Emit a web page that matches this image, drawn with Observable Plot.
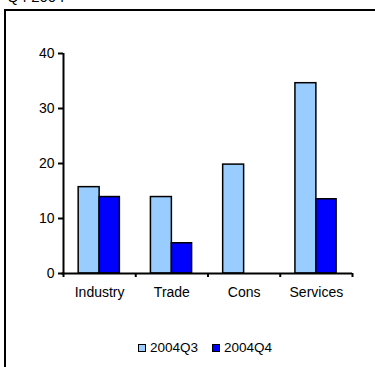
<!DOCTYPE html>
<html>
<head>
<meta charset="utf-8">
<script src="https://cdn.jsdelivr.net/npm/d3@7"></script>
<script src="https://cdn.jsdelivr.net/npm/@observablehq/plot@0.6"></script>
<style>
  html, body { margin: 0; padding: 0; background: #fff; overflow: hidden; }
  body { width: 375px; height: 367px; position: relative; font-family: "Liberation Sans", Arial, sans-serif; }
  #frame { position: absolute; left: 4px; top: 9px; width: 371px; height: 358px; border-top: 2px solid #000; border-left: 2px solid #000; box-sizing: border-box; }
  #clip { position: absolute; left: 0; top: 0; width: 375px; height: 367px; overflow: hidden; }
  #title { position: absolute; left: 7px; top: -11px; font-size: 15px; line-height: 15px; color: #000; white-space: nowrap; }
  #chart { position: absolute; left: 0; top: 0; }
  #legend { position: absolute; left: 138px; top: 340px; display: flex; gap: 14px; font-size: 13.5px; line-height: 16px; }
  .item { display: flex; align-items: center; gap: 4px; }
  .sw { width: 6px; height: 6px; border: 1.5px solid #000; display: inline-block; }
</style>
</head>
<body>
<div id="clip">
<div id="frame"></div>
<div id="title">Q4 2004</div>
<div id="chart"></div>
<div id="legend"></div>
</div>
<script>
const categories = ["Industry", "Trade", "Cons", "Services"];
const series = ["2004Q3", "2004Q4"];
const q3 = [15.7, 13.9, 19.8, 34.6];
const q4 = [13.9, 5.5, null, 13.5];
const colors = ["#99CCFF", "#0000FF"];
const yTicks = [0, 10, 20, 30, 40];

const data = [];
categories.forEach((c, i) => {
  if (q3[i] != null) data.push({category: c, idx: i, series: series[0], value: q3[i], x1: i + 0.21, x2: i + 0.5});
  if (q4[i] != null) data.push({category: c, idx: i, series: series[1], value: q4[i], x1: i + 0.5, x2: i + 0.78});
});

const font = "Liberation Sans, Arial, sans-serif";
const chart = Plot.plot({
  width: 375,
  height: 310,
  marginLeft: 63,
  marginRight: 23,
  marginTop: 53,
  marginBottom: 37,
  style: {fontFamily: font, fontSize: "14px", color: "#000", background: "transparent"},
  x: {domain: [0, categories.length], axis: null},
  y: {domain: [0, 40], axis: null},
  color: {domain: series, range: colors},
  marks: [
    Plot.rectY(data, {x1: "x1", x2: "x2", y: "value", fill: "series", stroke: "#000", strokeWidth: 1.5}),
    Plot.ruleY([0], {x1: -0.02, x2: categories.length, stroke: "#000", strokeWidth: 2}),
    Plot.ruleX([0], {y1: 0, y2: 40, stroke: "#000", strokeWidth: 2}),
    Plot.axisY({ticks: yTicks, tickSize: 5, tickPadding: 4, strokeWidth: 2, fontSize: 14, label: null}),
    Plot.axisX({ticks: d3.range(categories.length + 1), tickSize: 4, strokeWidth: 2, tickFormat: () => "", label: null}),
    Plot.axisX({ticks: categories.map((c, i) => i + 0.5), tickSize: 0, tickPadding: 14, fontSize: 14, label: null,
      tickFormat: d => categories[Math.floor(d)]})
  ]
});
document.getElementById("chart").appendChild(chart);

const legend = document.getElementById("legend");
series.forEach((s, i) => {
  const item = document.createElement("span");
  item.className = "item";
  const sw = document.createElement("span");
  sw.className = "sw";
  sw.style.background = colors[i];
  item.appendChild(sw);
  item.appendChild(document.createTextNode(s));
  legend.appendChild(item);
});
</script>
</body>
</html>
